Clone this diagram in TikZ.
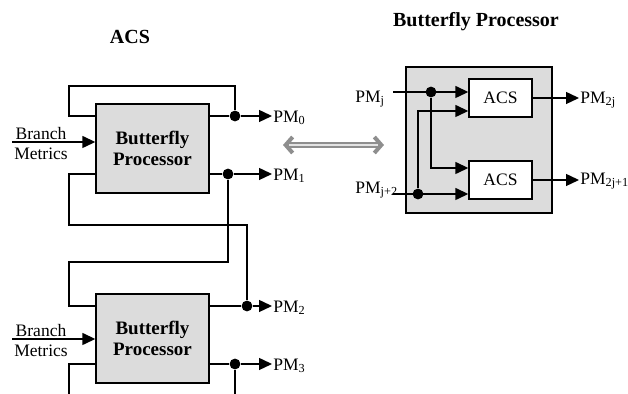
\documentclass[tikz,border=0pt]{standalone}
\usepackage{fontspec}
\setmainfont{Liberation Serif}
\usetikzlibrary{arrows.meta}
\definecolor{boxgray}{HTML}{DCDCDC}
\definecolor{arrowgray}{HTML}{8E8E8E}
\tikzset{
  wire/.style={line width=0.7pt},
  sig/.style={wire, -{Triangle[length=6.5pt, width=6pt]}},
  bfly/.style={draw, line width=0.7pt, fill=boxgray, minimum width=56.5pt, minimum height=44.5pt, align=center, font=\fontsize{9.5}{10.5}\selectfont\bfseries},
  acsbox/.style={draw, line width=0.7pt, fill=white, minimum width=31.5pt, minimum height=19pt, font=\fontsize{8.75}{10}\selectfont},
  dot/.style={circle, fill, inner sep=0pt, minimum size=5.4pt},
  lbl/.style={font=\fontsize{8.75}{10}\selectfont, inner sep=0.5pt},
  ttl/.style={font=\fontsize{10}{12}\selectfont\bfseries},
  barb/.tip={Straight Barb[length=3.5pt, width=8pt, line width=2pt]}
}
\begin{document}
\begin{tikzpicture}[x=0.5pt, y=-0.5pt]
  \useasboundingbox (0,0) rectangle (628,394);
  % Titles
  \node[ttl] (tacs) at (130,37) {ACS};
  \node[ttl] (tbp) at (476,22) {Butterfly Processor};
  % ACS chain of butterfly processors
  \node[bfly] (bp1) at (152.5,148.5) {Butterfly\\Processor};
  \node[bfly] (bp2) at (152.5,338.5) {Butterfly\\Processor};
  \node[dot] (d0) at (235,116) {}; \node[dot] (d1) at (228,174) {};
  \node[dot] (d2) at (247,306) {}; \node[dot] (d3) at (235,364) {};
  \node[lbl, anchor=base west] (pm0) at (272,123) {PM\textsubscript{0}};
  \node[lbl, anchor=base west] (pm1) at (272,181) {PM\textsubscript{1}};
  \node[lbl, anchor=base west] (pm2) at (272,313) {PM\textsubscript{2}};
  \node[lbl, anchor=base west] (pm3) at (272,371) {PM\textsubscript{3}};
  \coordinate (bm1) at (12,142); \coordinate (bm2) at (12,339); \coordinate (bot) at (69,394);
  \node[lbl] (br1) at (41,134) {Branch}; \node[lbl] (me1) at (41,154) {Metrics};
  \node[lbl] (br2) at (41,331) {Branch}; \node[lbl] (me2) at (41,351) {Metrics};
  \draw[sig] (bm1) -- (bp1.west |- bm1);
  \draw[sig] (bm2) -- (bp2.west |- bm2);
  \draw[wire] (bp1.east |- d0) -- (d0) |- (69,86) |- (bp1.west |- d0);
  \draw[wire] (bp1.east |- d1) -- (d1) |- (69,262) |- (bp2.west |- d2);
  \draw[wire] (bp1.west |- d1) -| (69,225) -| (d2);
  \draw[wire] (bp2.east |- d2) -- (d2);
  \draw[wire] (bp2.east |- d3) -- (d3) -- (d3 |- bot);
  \draw[wire] (bp2.west |- d3) -| (bot);
  \foreach \d/\p in {d0/pm0, d1/pm1, d2/pm2, d3/pm3}
    \draw[sig] (\d) -- (\p.west |- \d);
  % Exchange arrow
  \coordinate (xl) at (283,145); \coordinate (xr) at (384,145);
  \draw[arrowgray, line width=2.6pt, {barb}-{barb}] (xl) -- (xr);
  \draw[boxgray!80!white, line width=0.8pt, shorten <=3pt, shorten >=3pt] (xl) -- (xr);
  % Inside one butterfly processor
  \node[draw, line width=0.7pt, fill=boxgray, minimum width=73pt, minimum height=73pt] (bpr) at (479,140) {};
  \node[acsbox] (acs1) at (500.5,98) {ACS};
  \node[acsbox] (acs2) at (500.5,180) {ACS};
  \node[lbl, anchor=base west] (pmj) at (354,103) {PM\textsubscript{j}};
  \node[lbl, anchor=base west] (pmj2) at (354,194) {PM\textsubscript{j+2}};
  \node[lbl, anchor=base west] (pmo1) at (579,104) {PM\textsubscript{2j}};
  \node[lbl, anchor=base west] (pmo2) at (579,185) {PM\textsubscript{2j+1}};
  \coordinate (pj) at (393,92); \coordinate (pj2) at (393,194);
  \coordinate (ya) at (0,111); \coordinate (yb) at (0,168);
  \node[dot] (dj) at (431,92) {}; \node[dot] (dj2) at (418,194) {};
  \draw[sig] (pj) -- (acs1.west |- pj);
  \draw[sig] (pj2) -- (acs2.west |- pj2);
  \draw[sig] (dj) |- (acs2.west |- yb);
  \draw[sig] (dj2) |- (acs1.west |- ya);
  \draw[sig] (acs1.east) -- (pmo1.west |- acs1.east);
  \draw[sig] (acs2.east) -- (pmo2.west |- acs2.east);
\end{tikzpicture}
\end{document}
